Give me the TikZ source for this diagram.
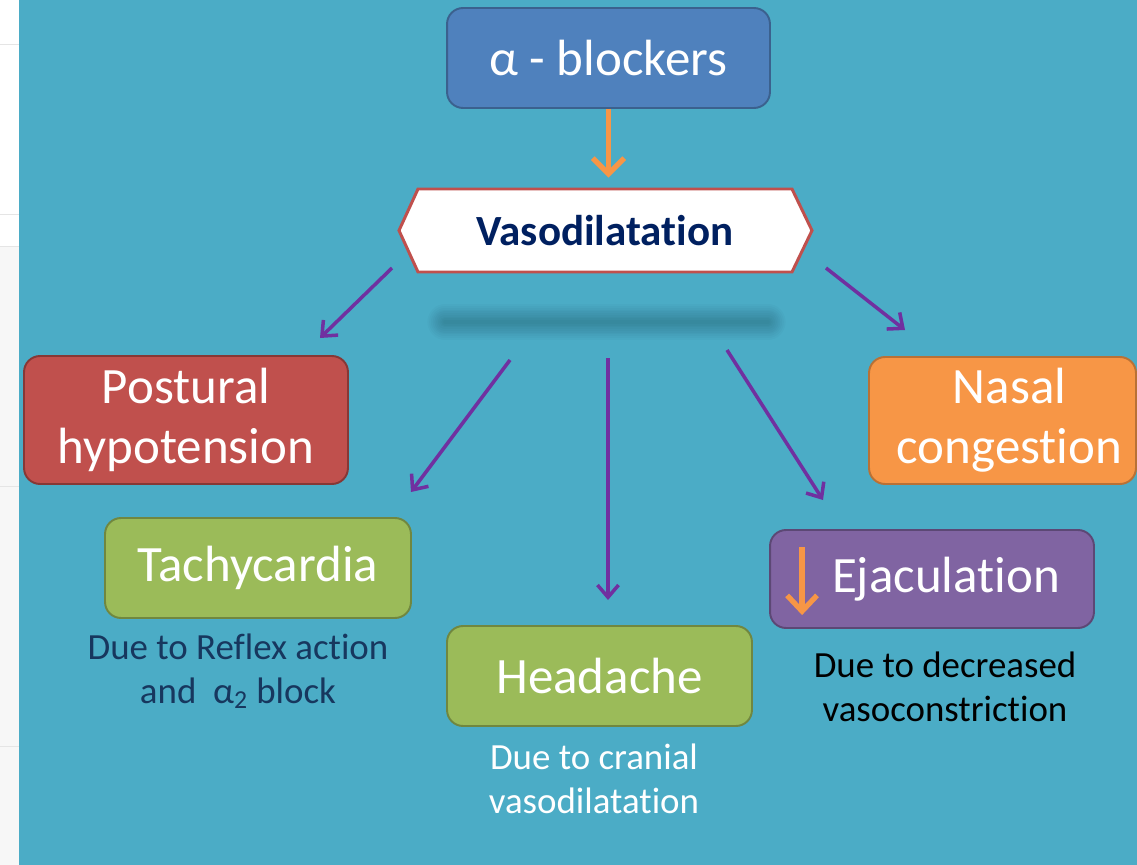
\documentclass[tikz,border=0pt]{standalone}
\usepackage{fontspec}
\setmainfont{Carlito}[Ligatures=NoCommon]
\usetikzlibrary{arrows.meta,calc}

\definecolor{bgteal}{HTML}{4BACC6}
\definecolor{boxblue}{HTML}{4F81BD}
\definecolor{boxred}{HTML}{C0504D}
\definecolor{boxgreen}{HTML}{9BBB59}
\definecolor{boxpurple}{HTML}{8064A2}
\definecolor{boxorange}{HTML}{F79646}
\definecolor{arrowpurple}{HTML}{7030A0}
\definecolor{navy}{HTML}{002060}
\definecolor{notenavy}{HTML}{17375E}

\tikzset{
  effectbox/.style={rounded corners=0.32cm, inner sep=0pt, line width=1.1pt,
    text=white, align=center, font=\fontsize{29}{34}\selectfont},
  note/.style={align=center, font=\fontsize{21}{25}\selectfont},
  effect/.style={draw=arrowpurple, line width=2pt,
    -{Straight Barb[length=7pt,width=12pt]}},
  cause/.style={draw=boxorange, line width=3pt,
    -{Straight Barb[length=9pt,width=18pt]}}
}

\begin{document}
\begin{tikzpicture}[x=0.02cm, y=-0.02cm]
    \useasboundingbox (0,0) rectangle (1137,865);
    % background
    \fill[white] (0,0) rectangle (19,865);
    \fill[black!3] (0,246) rectangle (19,865);
    \foreach \yy in {44,214,246,486,746}
        \draw[black!10, line width=0.4pt] (0,\yy) -- (19,\yy);
    \fill[bgteal] (19,0) rectangle (1137,865);

    % shadow under the hexagon
    \foreach \w in {2,4,...,20}
        \draw[black, opacity=0.018, line width=\w pt, line cap=round] (445,322) -- (768,322);

    % top
    \node[effectbox, fill=boxblue, draw=boxblue!75!black,
          minimum width=6.46cm, minimum height=2cm] (blockers) at (608.5,58) {α - blockers};
    \draw[draw=boxred, fill=white, line width=1.7pt, line join=miter]
        (418,189) -- (792,189) -- (812,230.5) -- (792,272)
        -- (418,272) -- (399,230.5) -- cycle;
    \node[inner sep=0pt, minimum width=7.48cm, minimum height=1.66cm,
          font=\fontsize{24.5}{29}\selectfont\bfseries, text=navy] (vaso) at (605,230.5) {Vasodilatation};

    % effects
    \node[effectbox, fill=boxred, draw=boxred!70!black,
          minimum width=6.48cm, minimum height=2.56cm] (postural) at (186,420) {Postural\\hypotension};
    \node[effectbox, fill=boxorange, draw=boxorange!75!black,
          minimum width=5.34cm, minimum height=2.54cm] (nasal) at (1002.5,420.5) {\hspace*{0.28cm}Nasal\\\hspace*{0.28cm}congestion};
    \node[effectbox, fill=boxgreen, draw=boxgreen!72!black,
          minimum width=6.12cm, minimum height=2cm] (tachy) at (258,568) {Tachycardia};
    \node[effectbox, fill=boxgreen, draw=boxgreen!72!black,
          minimum width=6.1cm, minimum height=2cm] (headache) at (599.5,676) {Headache};
    \node[effectbox, fill=boxpurple, draw=boxpurple!72!black,
          minimum width=6.48cm, minimum height=1.96cm] (ejac) at (932,579) {\hspace*{0.56cm}Ejaculation};
    \draw[draw=boxorange, line width=3pt, -{Straight Barb[length=9pt,width=17pt]}]
        ($(ejac.north west)+(33,18)$) coordinate (down1) -- ($(ejac.north west)+(33,86)$) coordinate (down2);

    % notes
    \node[note, text=notenavy] (tachynote) at (238,671) {Due to Reflex action\\and\ \ α\textsubscript{2} block};
    \node[note, text=white] (headnote) at (594,779) {Due to cranial\\vasodilatation};
    \node[note, text=black] (ejacnote) at (945,687) {Due to decreased\\vasoconstriction};

    % arrows
    \draw[cause, shorten >=0.22cm] (blockers.south) -- (blockers.south |- vaso.north);
    \coordinate (p1) at (392,268); \coordinate (q1) at (320,338);
    \coordinate (p2) at (510,360); \coordinate (q2) at (411,492);
    \coordinate (p3) at (608,358); \coordinate (q3) at (608,600);
    \coordinate (p4) at (727,350); \coordinate (q4) at (823,500);
    \coordinate (p5) at (826,268); \coordinate (q5) at (905,330);
    \foreach \i in {1,...,5}
        \draw[effect] (p\i) -- (q\i);
\end{tikzpicture}
\end{document}
